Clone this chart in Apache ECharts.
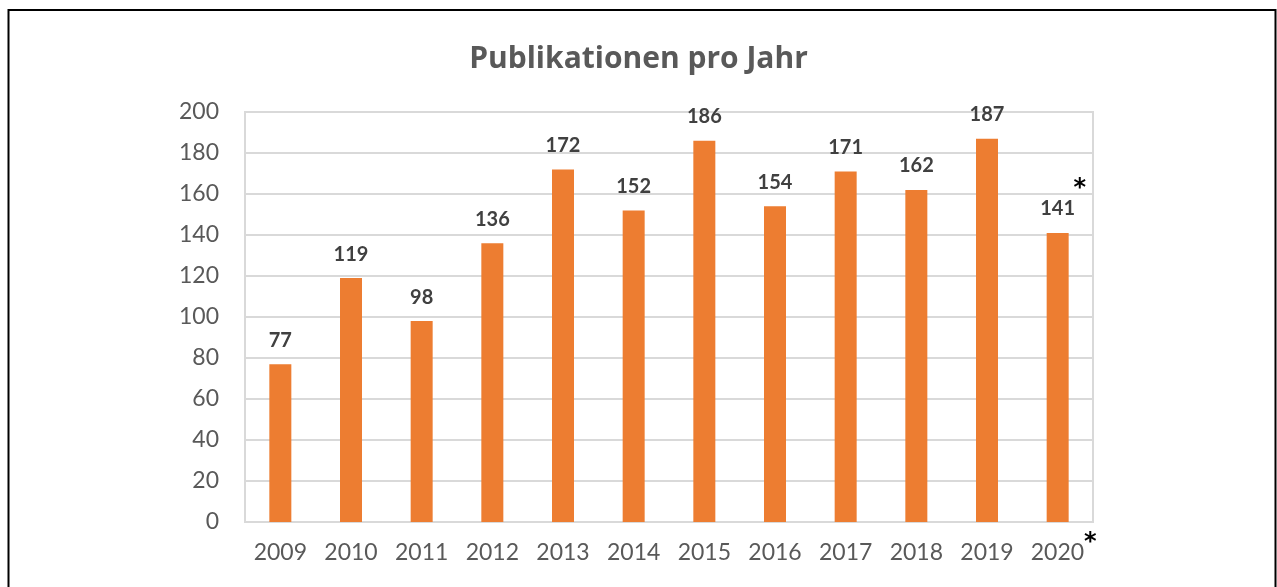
<!DOCTYPE html>
<html>
<head>
<meta charset="utf-8">
<script src="https://cdn.jsdelivr.net/npm/echarts@6/dist/echarts.min.js"></script>
<style>
html,body{margin:0;padding:0;background:#fff;}
#c{width:1277px;height:587px;}
</style>
</head>
<body>
<div id="c"></div>
<script>
const titleText = 'Publikationen pro Jahr';
const years = ['2009','2010','2011','2012','2013','2014','2015','2016','2017','2018','2019','2020'];
const publications = [77,119,98,136,172,152,186,154,171,162,187,141];
const starredYears = ['2020'];
const yTicks = {min: 0, max: 200, interval: 20};

const chart = echarts.init(document.getElementById('c'), null, {renderer: 'canvas'});
const font = 'Lato, "Open Sans", sans-serif';
const starFont = '"DejaVu Sans", sans-serif';

chart.setOption({
  animation: false,
  backgroundColor: '#ffffff',
  title: {
    text: titleText,
    left: 'center',
    top: 39,
    textStyle: {fontFamily: '"Open Sans", sans-serif', fontSize: 30, fontWeight: 'bold', color: '#595959'}
  },
  grid: {
    left: 245, right: 184, top: 112, bottom: 65,
    show: true, borderColor: '#d9d9d9', borderWidth: 2, containLabel: false
  },
  xAxis: {
    type: 'category',
    data: years,
    axisLine: {show: true, lineStyle: {color: '#d9d9d9', width: 2}},
    axisTick: {show: false},
    axisLabel: {
      interval: 0,
      margin: 9,
      lineHeight: 44,
      fontFamily: font, fontSize: 23, color: '#595959',
      formatter: function (v) { return starredYears.indexOf(v) >= 0 ? '{p|}' + v + '{s|*}' : v; },
      rich: {
        p: {width: 12, lineHeight: 44},
        s: {fontFamily: starFont, fontSize: 24, fontWeight: 'bold', color: '#000', verticalAlign: 'top', lineHeight: 44}
      }
    }
  },
  yAxis: {
    type: 'value',
    min: yTicks.min, max: yTicks.max, interval: yTicks.interval,
    axisLine: {show: false},
    axisTick: {show: false},
    splitLine: {lineStyle: {color: '#d9d9d9', width: 2}},
    axisLabel: {margin: 26, fontFamily: font, fontSize: 23, color: '#595959'}
  },
  series: [{
    type: 'bar',
    data: publications,
    barWidth: 22,
    itemStyle: {color: '#ED7D31'},
    label: {
      show: true,
      position: 'top',
      distance: 12,
      fontFamily: font, fontSize: 20, fontWeight: 'bold', color: '#404040',
      formatter: function (p) {
        return starredYears.indexOf(p.name) >= 0 ? '{s|*}\n{v|' + p.value + '}' : '{v|' + p.value + '}';
      },
      rich: {
        v: {fontFamily: font, fontSize: 20, fontWeight: 'bold', color: '#404040', lineHeight: 24},
        s: {fontFamily: starFont, fontSize: 24, fontWeight: 'bold', color: '#000', lineHeight: 16, padding: [0, 0, 0, 44]}
      }
    }
  }],
  graphic: [{
    type: 'rect',
    shape: {x: 8.5, y: 10, width: 1267, height: 620},
    style: {fill: 'none', stroke: '#000', lineWidth: 2},
    silent: true, z: 100
  }]
});
</script>
</body>
</html>
